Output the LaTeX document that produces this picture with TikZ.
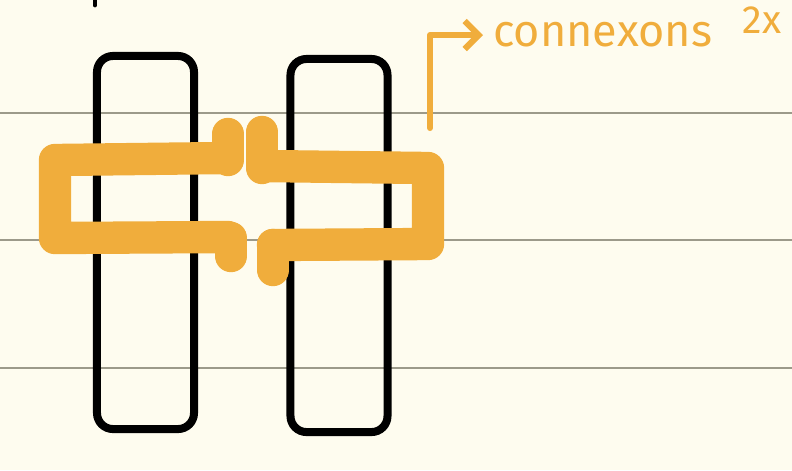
\documentclass[tikz,border=0pt]{standalone}
\usepackage{fontspec}
\setmainfont{Fira Sans}
\usetikzlibrary{arrows.meta}
\definecolor{paper}{HTML}{FEFCEF}
\definecolor{rule}{HTML}{9C9A8A}
\definecolor{marker}{HTML}{F0AD3C}
\begin{document}
\begin{tikzpicture}[x=0.025cm,y=-0.025cm,
            membrane/.style = {draw,
                line width = 5.7pt,
                rounded corners = 0.4cm,
                minimum width = 2.425cm,
                minimum height = 9.325cm,
                },
            bracket/.style = {marker,
                line width = 23pt,
                line cap = round,
                line join = round,
                }]

        % Paper
        \fill[paper] (0,0) rectangle (792,470);
        \useasboundingbox (0,0) rectangle (792,470);

        % Ruled lines
        \foreach \y in {113,240,368}
            \draw[rule,line width=2.1pt] (0,\y) -- (792,\y);

        % Stray mark
        \draw[line width=3.5pt,line cap=round] (95,1) -- (95,5);

        % Cell A
        \node[membrane] (A) at (145.5,242.5) {};

        % Cell B
        \node[membrane] (B) at (339,245.5) {};

        % Connexon of A
        \draw[bracket] (226,158) -- (55,160) -- (55,238) -- (228,237);
        \draw[bracket] (228,134) -- (228,160);
        \draw[bracket] (231,238) -- (231,256);

        % Connexon of B
        \draw[bracket] (264,166) -- (428,168) -- (428,244) -- (273,245);
        \draw[bracket] (262,132) -- (262,168);
        \draw[bracket] (273,245) -- (273,270);

        % Label
        \node[marker,anchor=west,inner sep=0.25cm,font=\fontsize{32}{32}\selectfont] (conx) at (483,35) {connexons};
        \node[marker,font=\fontsize{28}{28}\selectfont] (twox) at (762,20) {2x};
        \coordinate (tail) at (430,128);
        \draw[marker,line width=4.3pt,line cap=round,line join=round,
            -{Straight Barb[length=0.35cm,width=0.7cm]}] (tail) |- (conx.west);

\end{tikzpicture}
\end{document}
